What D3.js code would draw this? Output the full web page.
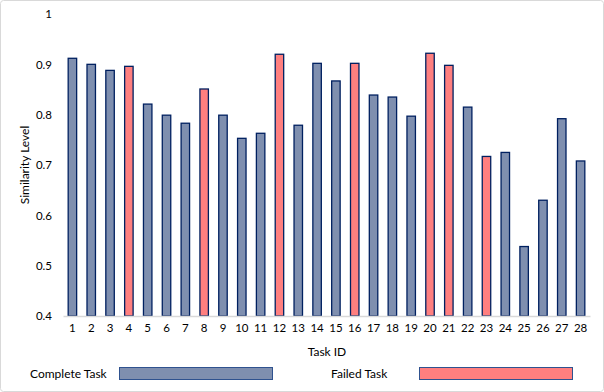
<!DOCTYPE html>
<html>
<head>
<meta charset="utf-8">
<script src="https://cdn.jsdelivr.net/npm/d3@7"></script>
<style>
  body { margin: 0; background: #fff; }
  svg { display: block; font-family: Lato, "Open Sans", sans-serif; }
</style>
</head>
<body>
<div id="chart"></div>
<script>
// task ids along the x axis
const taskIds = d3.range(1, 29).map(String);

// similarity level per task
const similarity = [
  0.912, 0.900, 0.888, 0.896, 0.821, 0.799, 0.783, 0.851, 0.799, 0.753,
  0.763, 0.920, 0.779, 0.902, 0.867, 0.902, 0.839, 0.835, 0.797, 0.922,
  0.898, 0.815, 0.717, 0.725, 0.538, 0.630, 0.792, 0.708
];

// which tasks failed
const failedTasks = ['4', '8', '12', '16', '20', '21', '23'];

// y tick labels
const yTicks = [0.4, 0.5, 0.6, 0.7, 0.8, 0.9, 1];

const width = 604;
const height = 392;
const margin = { top: 14, right: 14, bottom: 76, left: 63 };

const colors = {
  complete: '#7f8faf',
  failed: '#ff7f7f',
  stroke: '#002060',
};

const svg = d3.select('#chart')
  .append('svg')
  .attr('width', width)
  .attr('height', height);

// outer chart border
svg.append('rect')
  .attr('x', 0.5)
  .attr('y', 0.5)
  .attr('width', width - 1)
  .attr('height', height - 1)
  .attr('rx', 3)
  .attr('fill', '#fff')
  .attr('stroke', '#d9d9d9');

const x = d3.scaleBand()
  .domain(taskIds)
  .range([margin.left, width - margin.right])
  .paddingInner(0.55)
  .paddingOuter(0.275);

const y = d3.scaleLinear()
  .domain([0.4, 1])
  .range([height - margin.bottom, margin.top]);

// bars
svg.append('g')
  .selectAll('rect')
  .data(taskIds)
  .join('rect')
  .attr('x', d => x(d))
  .attr('y', (d, i) => y(similarity[i]))
  .attr('width', x.bandwidth())
  .attr('height', (d, i) => y(0.4) - y(similarity[i]))
  .attr('fill', d => failedTasks.includes(d) ? colors.failed : colors.complete)
  .attr('stroke', colors.stroke)
  .attr('stroke-width', 1.3);

// x axis
const xAxis = svg.append('g')
  .attr('transform', `translate(0,${y(0.4)})`)
  .call(d3.axisBottom(x).tickSize(0).tickPadding(8));
xAxis.select('.domain').attr('stroke', '#d9d9d9').attr('stroke-width', 1.3);
xAxis.selectAll('text')
  .attr('font-size', 11.5)
  .attr('fill', '#000')
  .style('font-family', 'Lato, sans-serif');

// y axis labels, no line
const yAxis = svg.append('g')
  .attr('transform', `translate(${margin.left},0)`)
  .call(d3.axisLeft(y).tickValues(yTicks).tickFormat(d3.format('')).tickSize(0).tickPadding(11));
yAxis.select('.domain').remove();
yAxis.selectAll('text')
  .attr('font-size', 11.5)
  .attr('fill', '#000')
  .style('font-family', 'Lato, sans-serif');

// axis titles
svg.append('text')
  .attr('x', 327)
  .attr('y', 356)
  .attr('text-anchor', 'middle')
  .attr('font-size', 12)
  .text('Task ID');

svg.append('text')
  .attr('transform', `translate(29,${(y(0.4) + y(1)) / 2}) rotate(-90)`)
  .attr('text-anchor', 'middle')
  .attr('font-size', 12)
  .text('Similarity Level');

// legend
const legendItems = [
  { label: 'Complete Task', color: colors.complete, tx: 30, sx: 119 },
  { label: 'Failed Task', color: colors.failed, tx: 331, sx: 419 },
];

const legend = svg.append('g');
legend.selectAll('text')
  .data(legendItems)
  .join('text')
  .attr('x', d => d.tx)
  .attr('y', 378)
  .attr('font-size', 12)
  .text(d => d.label);

legend.selectAll('rect')
  .data(legendItems)
  .join('rect')
  .attr('x', d => d.sx + 0.5)
  .attr('y', 367.5)
  .attr('width', 153)
  .attr('height', 12)
  .attr('fill', d => d.color)
  .attr('stroke', '#2f528f')
  .attr('stroke-width', 1);
</script>
</body>
</html>
